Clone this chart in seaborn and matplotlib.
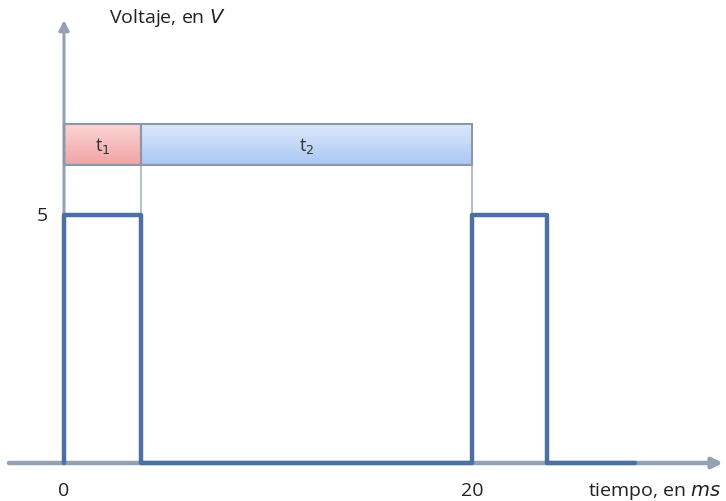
import numpy as np
import matplotlib
matplotlib.use("Agg")
import matplotlib.pyplot as plt
import seaborn as sns
import pandas as pd

# data
time_ms = [0, 0, 3.77, 3.77, 20, 20, 23.7, 23.7, 28.0]
voltage = [0, 5, 5, 0, 0, 5, 5, 0, 0]
t1_span = [0, 3.77]
t2_span = [3.77, 20]
bar_levels = [6.0, 6.83]
xtick_vals = [0, 20]
xtick_labels = ["0", "20"]
ytick_vals = [5]
ytick_labels = ["5"]

sns.set_style("white")
plt.rcParams['font.family'] = ['Open Sans', 'DejaVu Sans']

fig = plt.figure(figsize=(7.26, 5.02), dpi=100)
ax = fig.add_axes([0, 0, 1, 1])
px_x = 20.4
px_y = 49.6
ax.set_xlim(-64 / px_x, (726 - 64) / px_x)
ax.set_ylim((464 - 502) / px_y, 464 / px_y)
ax.axis('off')

axis_col = '#93a1b3'
line_col = '#4d70a2'

# axes arrows
ax.annotate('', xy=(32.3, 0), xytext=(-2.7, 0),
            arrowprops=dict(arrowstyle='-|>,head_length=0.6,head_width=0.3',
                            color=axis_col, lw=3.2, shrinkA=0, shrinkB=0))
ax.annotate('', xy=(0, 8.93), xytext=(0, 0),
            arrowprops=dict(arrowstyle='-|>,head_length=0.6,head_width=0.3',
                            color=axis_col, lw=2.2, shrinkA=0, shrinkB=0))

# gradient bars
def grad_bar(x0, x1, y0, y1, c_top, c_bot):
    top = np.array(matplotlib.colors.to_rgb(c_top))
    bot = np.array(matplotlib.colors.to_rgb(c_bot))
    n = 50
    t = np.linspace(0, 1, n)[:, None]
    img = (top * (1 - t) + bot * t)[:, None, :]
    ax.imshow(img, extent=[x0, x1, y0, y1], origin='upper', aspect='auto', zorder=2)
    ax.add_patch(plt.Rectangle((x0, y0), x1 - x0, y1 - y0, fill=False,
                               edgecolor='#8c98a8', lw=1.5, zorder=3))

grad_bar(t1_span[0], t1_span[1], bar_levels[0], bar_levels[1], '#fbd6d6', '#f2a4a4')
grad_bar(t2_span[0], t2_span[1], bar_levels[0], bar_levels[1], '#dde9fc', '#abc7f4')

# thin guide lines from bars down to pulse level
for xv in [t1_span[1], t2_span[1]]:
    ax.plot([xv, xv], [5, bar_levels[0]], color='#a8b4c4', lw=1.2, zorder=1)

ax.text(np.mean(t1_span), np.mean(bar_levels), 't$_1$', ha='center', va='center',
        fontsize=13, color='#333333', zorder=4)
ax.text(np.mean(t2_span), np.mean(bar_levels), 't$_2$', ha='center', va='center',
        fontsize=13, color='#333333', zorder=4)

# signal
df = pd.DataFrame({'t': time_ms, 'v': voltage})
sns.lineplot(data=df, x='t', y='v', sort=False, estimator=None, ax=ax,
             color=line_col, lw=3.2, zorder=5)
ax.set_xlim(-64 / px_x, (726 - 64) / px_x)
ax.set_ylim((464 - 502) / px_y, 464 / px_y)
ax.axis('off')

# tick labels
for xv, lab in zip(xtick_vals, xtick_labels):
    ax.text(xv, -0.55, lab, ha='center', va='center', fontsize=14, color='#222222')
for yv, lab in zip(ytick_vals, ytick_labels):
    ax.text(-1.05, yv, lab, ha='center', va='center', fontsize=14, color='#222222')

ax.text(32.2, -0.55, 'tiempo, en $\\it{ms}$', ha='right', va='center',
        fontsize=14, color='#222222')
ax.text(2.2, 9.0, 'Voltaje, en $\\it{V}$', ha='left', va='center',
        fontsize=14, color='#222222')

fig.savefig('out.png', dpi=100)
